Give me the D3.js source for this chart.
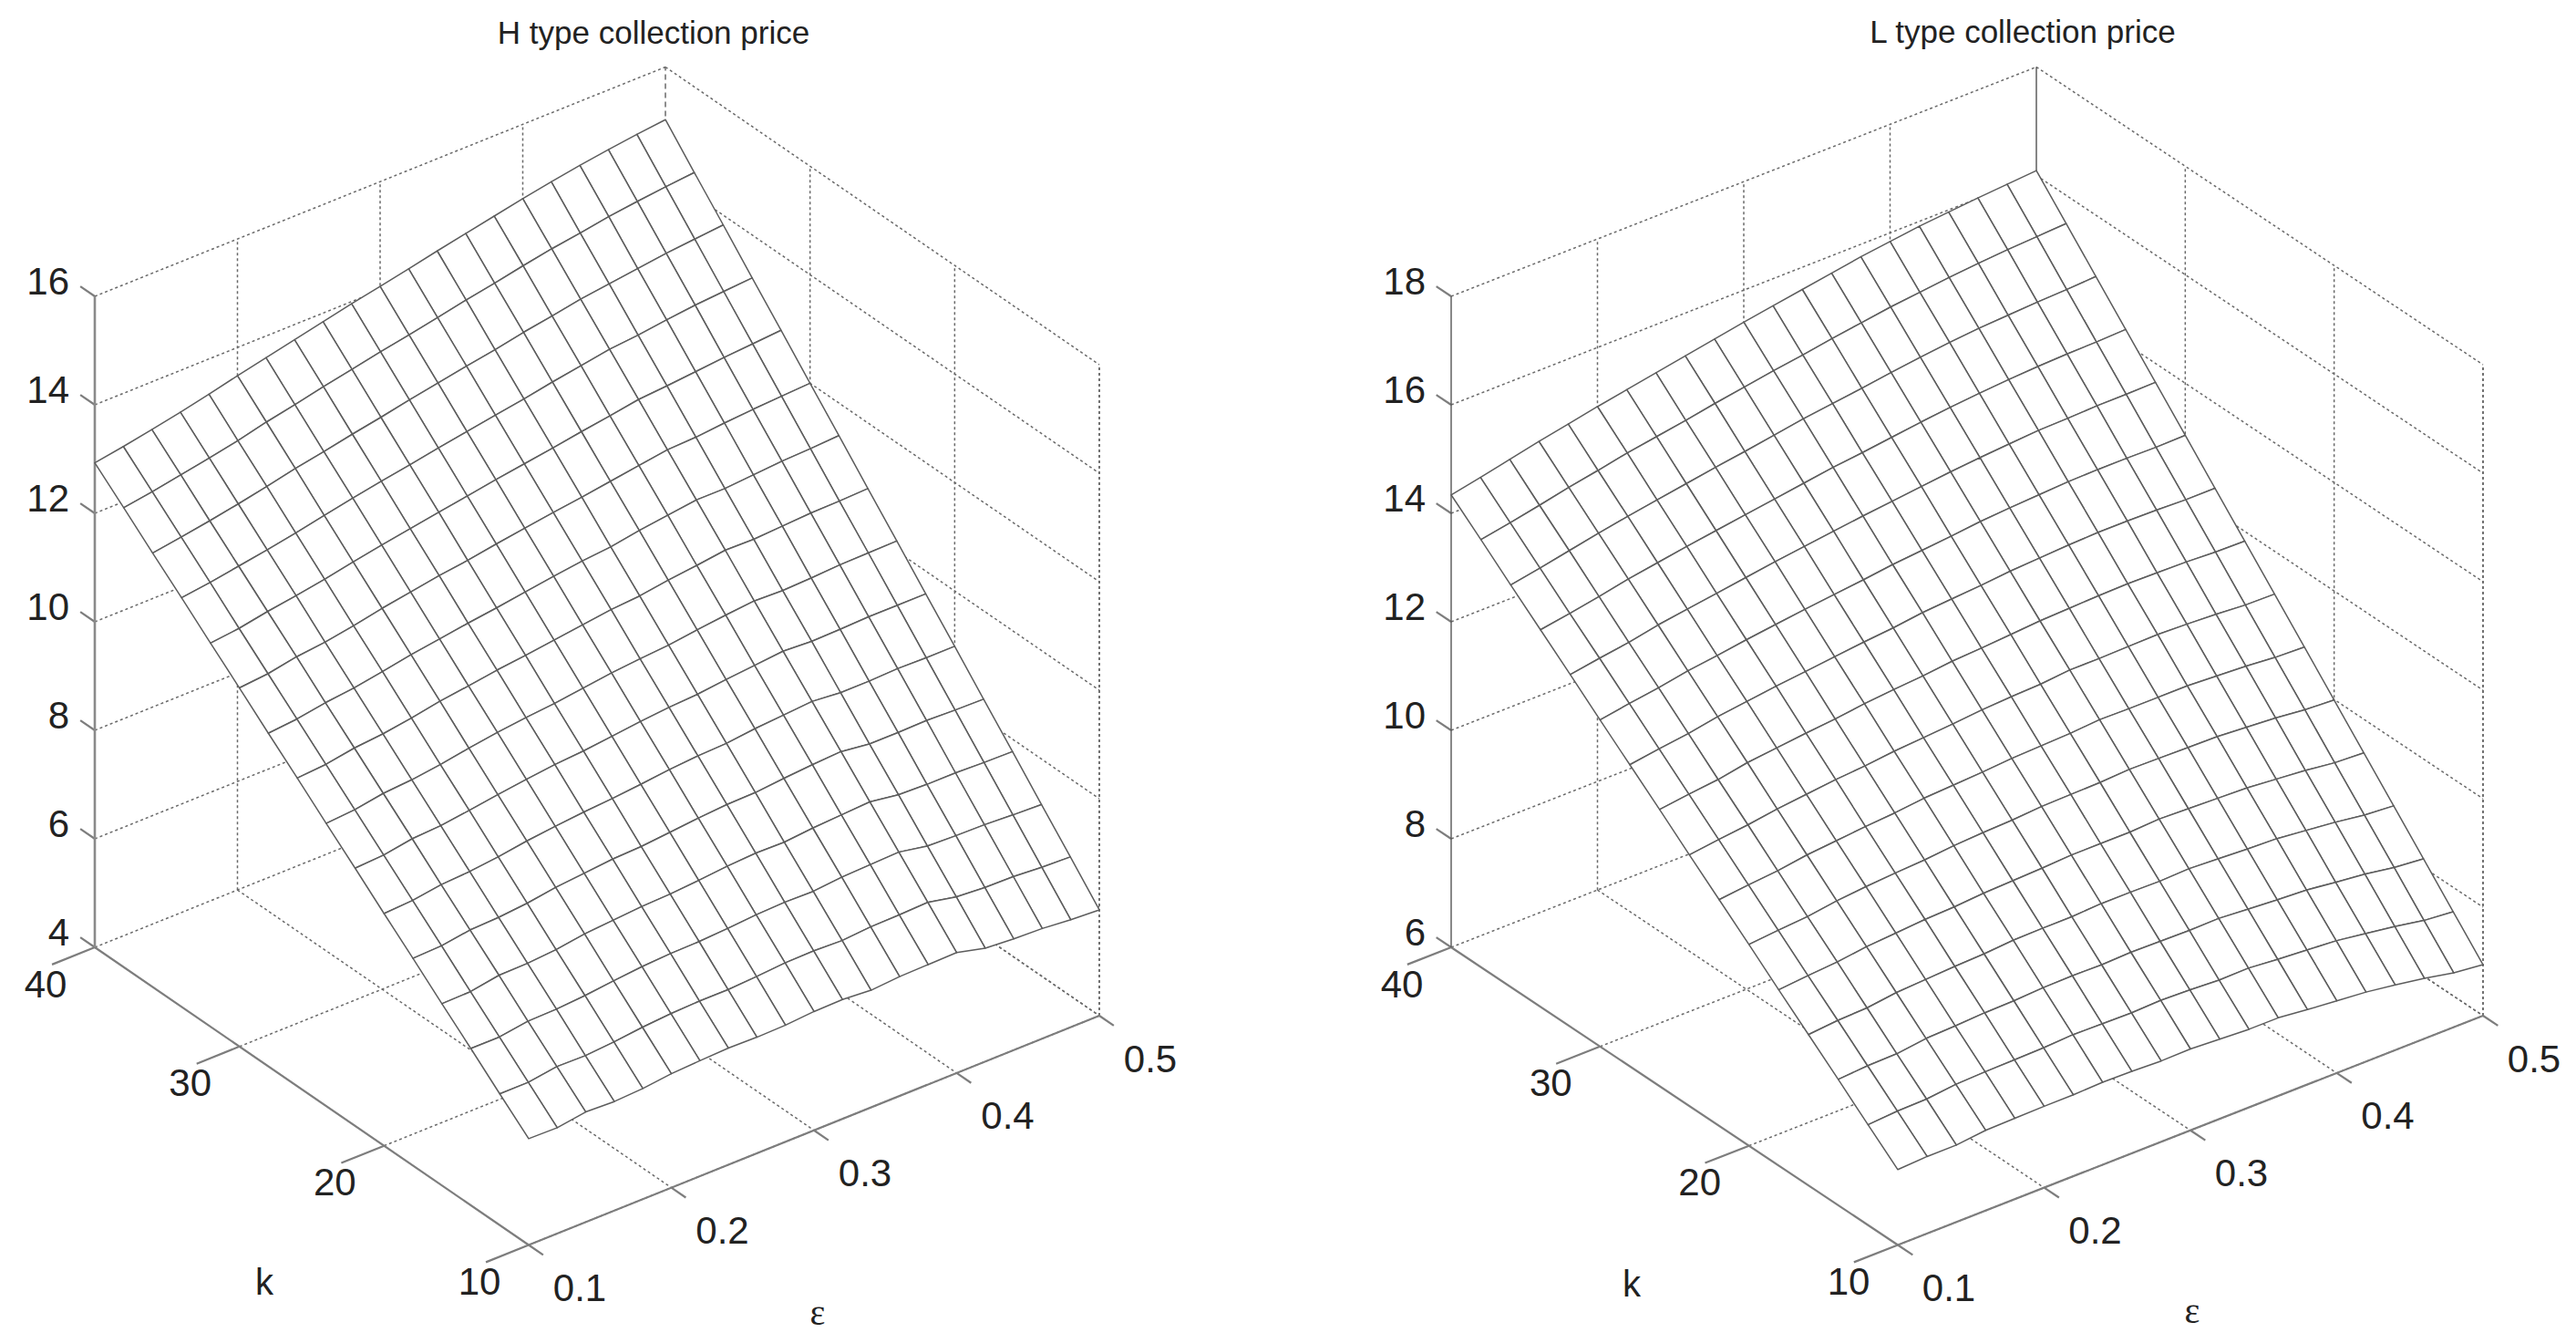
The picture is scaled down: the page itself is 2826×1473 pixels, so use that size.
<!doctype html>
<html>
<head>
<meta charset="utf-8">
<title>Collection price surfaces</title>
<script src="https://cdn.jsdelivr.net/npm/d3@7"></script>
<style>
  html, body { margin: 0; padding: 0; background: #fff; }
  svg { display: block; }
</style>
</head>
<body>
<script>
// Grid of the two surfaces
const kValues = [40, 38, 36, 34, 32, 30, 28, 26, 24, 22, 20, 18, 16, 14, 12, 10];
const epsValues = [0.1, 0.12, 0.14, 0.16, 0.18, 0.2, 0.22, 0.24, 0.26, 0.28, 0.3, 0.32, 0.34, 0.36, 0.38, 0.4, 0.42, 0.44, 0.46, 0.48, 0.5];

// Tick labels
const kTicks = [10, 20, 30, 40];
const epsTicks = [0.1, 0.2, 0.3, 0.4, 0.5];
const hPriceTicks = [4, 6, 8, 10, 12, 14, 16];
const lPriceTicks = [6, 8, 10, 12, 14, 16, 18];

// One row per k (40 down to 10), one column per epsilon (0.1 up to 0.5)
const hPrice = [
  [12.93, 13.02, 13.12, 13.23, 13.35, 13.48, 13.60, 13.72, 13.84, 13.96, 14.07, 14.18, 14.30, 14.41, 14.52, 14.63, 14.73, 14.82, 14.90, 14.97, 15.03],
  [12.47, 12.55, 12.65, 12.75, 12.86, 12.99, 13.10, 13.22, 13.33, 13.44, 13.54, 13.65, 13.76, 13.86, 13.97, 14.07, 14.15, 14.24, 14.31, 14.37, 14.42],
  [12.00, 12.08, 12.17, 12.27, 12.38, 12.50, 12.60, 12.71, 12.81, 12.92, 13.02, 13.12, 13.21, 13.32, 13.41, 13.51, 13.58, 13.65, 13.72, 13.77, 13.82],
  [11.54, 11.61, 11.70, 11.79, 11.89, 12.00, 12.11, 12.21, 12.30, 12.40, 12.49, 12.58, 12.67, 12.77, 12.86, 12.95, 13.00, 13.07, 13.13, 13.17, 13.21],
  [11.07, 11.13, 11.23, 11.31, 11.40, 11.51, 11.61, 11.70, 11.79, 11.88, 11.97, 12.05, 12.13, 12.22, 12.30, 12.39, 12.43, 12.48, 12.53, 12.57, 12.61],
  [10.61, 10.66, 10.76, 10.82, 10.91, 11.02, 11.11, 11.20, 11.27, 11.36, 11.44, 11.52, 11.59, 11.67, 11.75, 11.83, 11.85, 11.90, 11.94, 11.97, 12.00],
  [10.14, 10.19, 10.28, 10.34, 10.43, 10.53, 10.61, 10.69, 10.76, 10.84, 10.92, 10.99, 11.04, 11.13, 11.20, 11.27, 11.27, 11.31, 11.35, 11.37, 11.40],
  [9.68, 9.72, 9.81, 9.86, 9.94, 10.04, 10.11, 10.19, 10.25, 10.32, 10.39, 10.46, 10.50, 10.58, 10.64, 10.71, 10.70, 10.73, 10.76, 10.77, 10.79],
  [9.21, 9.25, 9.34, 9.38, 9.45, 9.54, 9.62, 9.68, 9.73, 9.80, 9.87, 9.92, 9.96, 10.03, 10.09, 10.14, 10.12, 10.14, 10.17, 10.18, 10.19],
  [8.75, 8.78, 8.87, 8.90, 8.97, 9.05, 9.12, 9.18, 9.22, 9.28, 9.34, 9.39, 9.42, 9.48, 9.53, 9.58, 9.55, 9.56, 9.58, 9.58, 9.58],
  [8.28, 8.31, 8.39, 8.42, 8.48, 8.56, 8.62, 8.67, 8.71, 8.76, 8.82, 8.86, 8.88, 8.94, 8.98, 9.02, 8.97, 8.97, 8.99, 8.98, 8.98],
  [7.82, 7.84, 7.92, 7.94, 7.99, 8.07, 8.12, 8.17, 8.19, 8.24, 8.29, 8.33, 8.34, 8.39, 8.43, 8.46, 8.39, 8.39, 8.40, 8.38, 8.37],
  [7.35, 7.36, 7.45, 7.46, 7.50, 7.58, 7.62, 7.66, 7.68, 7.72, 7.77, 7.80, 7.79, 7.84, 7.87, 7.90, 7.82, 7.80, 7.80, 7.78, 7.77],
  [6.89, 6.89, 6.97, 6.98, 7.02, 7.08, 7.13, 7.16, 7.17, 7.20, 7.24, 7.26, 7.25, 7.30, 7.32, 7.34, 7.24, 7.22, 7.21, 7.18, 7.16],
  [6.42, 6.42, 6.50, 6.49, 6.53, 6.59, 6.63, 6.65, 6.65, 6.68, 6.72, 6.73, 6.71, 6.75, 6.76, 6.78, 6.67, 6.63, 6.62, 6.58, 6.56],
  [5.96, 5.95, 6.03, 6.01, 6.04, 6.10, 6.13, 6.15, 6.14, 6.15, 6.19, 6.20, 6.16, 6.20, 6.21, 6.22, 6.09, 6.05, 6.03, 5.98, 5.95],
];

const lPrice = [
  [14.34, 14.45, 14.57, 14.69, 14.80, 14.91, 15.01, 15.11, 15.21, 15.31, 15.41, 15.50, 15.59, 15.68, 15.77, 15.84, 15.91, 15.96, 16.01, 16.05, 16.09],
  [13.88, 13.98, 14.09, 14.21, 14.31, 14.42, 14.51, 14.60, 14.70, 14.79, 14.88, 14.96, 15.05, 15.13, 15.21, 15.27, 15.33, 15.38, 15.42, 15.45, 15.48],
  [13.41, 13.51, 13.62, 13.73, 13.83, 13.92, 14.01, 14.10, 14.18, 14.27, 14.36, 14.43, 14.50, 14.58, 14.65, 14.71, 14.76, 14.79, 14.82, 14.84, 14.87],
  [12.95, 13.04, 13.14, 13.25, 13.34, 13.43, 13.51, 13.59, 13.67, 13.75, 13.83, 13.89, 13.96, 14.03, 14.09, 14.14, 14.18, 14.21, 14.23, 14.24, 14.26],
  [12.49, 12.58, 12.66, 12.77, 12.85, 12.93, 13.01, 13.09, 13.16, 13.23, 13.30, 13.36, 13.42, 13.48, 13.53, 13.57, 13.61, 13.62, 13.64, 13.64, 13.65],
  [12.02, 12.11, 12.19, 12.29, 12.36, 12.44, 12.51, 12.58, 12.64, 12.70, 12.77, 12.82, 12.87, 12.93, 12.97, 13.00, 13.03, 13.04, 13.04, 13.03, 13.04],
  [11.56, 11.64, 11.71, 11.81, 11.88, 11.95, 12.01, 12.07, 12.13, 12.18, 12.25, 12.29, 12.33, 12.38, 12.41, 12.44, 12.46, 12.46, 12.45, 12.43, 12.43],
  [11.10, 11.17, 11.23, 11.33, 11.39, 11.45, 11.50, 11.57, 11.62, 11.66, 11.72, 11.75, 11.79, 11.83, 11.85, 11.87, 11.88, 11.87, 11.86, 11.83, 11.82],
  [10.63, 10.70, 10.76, 10.84, 10.90, 10.96, 11.00, 11.06, 11.10, 11.14, 11.19, 11.22, 11.24, 11.29, 11.29, 11.30, 11.31, 11.29, 11.26, 11.22, 11.21],
  [10.17, 10.23, 10.28, 10.36, 10.41, 10.46, 10.50, 10.56, 10.59, 10.62, 10.66, 10.68, 10.70, 10.74, 10.73, 10.73, 10.73, 10.70, 10.67, 10.62, 10.60],
  [9.71, 9.76, 9.80, 9.88, 9.93, 9.97, 10.00, 10.05, 10.08, 10.10, 10.14, 10.15, 10.16, 10.19, 10.18, 10.17, 10.16, 10.12, 10.08, 10.02, 9.99],
  [9.24, 9.29, 9.33, 9.40, 9.44, 9.48, 9.50, 9.54, 9.56, 9.58, 9.61, 9.61, 9.61, 9.64, 9.62, 9.60, 9.58, 9.53, 9.48, 9.41, 9.38],
  [8.78, 8.83, 8.85, 8.92, 8.95, 8.98, 9.00, 9.04, 9.05, 9.05, 9.08, 9.08, 9.07, 9.09, 9.06, 9.03, 9.01, 8.95, 8.89, 8.81, 8.77],
  [8.32, 8.36, 8.37, 8.44, 8.46, 8.49, 8.50, 8.53, 8.54, 8.53, 8.55, 8.54, 8.53, 8.54, 8.50, 8.46, 8.43, 8.36, 8.30, 8.21, 8.16],
  [7.85, 7.89, 7.90, 7.96, 7.98, 7.99, 8.00, 8.03, 8.02, 8.01, 8.03, 8.01, 7.98, 7.99, 7.94, 7.90, 7.86, 7.78, 7.70, 7.60, 7.55],
  [7.39, 7.42, 7.42, 7.48, 7.49, 7.50, 7.50, 7.52, 7.51, 7.49, 7.50, 7.47, 7.44, 7.44, 7.38, 7.33, 7.28, 7.20, 7.11, 7.00, 6.94],
];

const WIDTH = 2826;
const HEIGHT = 1473;
const FONT = '"Liberation Sans", Arial, sans-serif';
const DOT_COLOR = "#6a6a6a";
const MESH_COLOR = "#5c5c5c";
const AXIS_COLOR = "#7d7d7d";

const svg = d3
  .select("body")
  .append("svg")
  .attr("width", WIDTH)
  .attr("height", HEIGHT)
  .attr("viewBox", `0 0 ${WIDTH} ${HEIGHT}`)
  .style("font-family", FONT);

svg.append("rect").attr("width", WIDTH).attr("height", HEIGHT).attr("fill", "#fff");

function drawPanel(opts) {
  const { title, titleX, values, zTicks, corner, epsLabelX, kLabelX, zAxisStyle, backDash } = opts;
  const zMin = zTicks[0];
  const zMax = zTicks[zTicks.length - 1];

  // Oblique projection: every data axis gets its own pair of screen scales
  const xFromK = d3.scaleLinear().domain([10, 40]).range([0, corner.k40x - corner.ax]);
  const yFromK = d3.scaleLinear().domain([10, 40]).range([0, corner.k40y - corner.ay]);
  const xFromE = d3.scaleLinear().domain([0.1, 0.5]).range([0, corner.e5x - corner.ax]);
  const yFromE = d3.scaleLinear().domain([0.1, 0.5]).range([0, corner.e5y - corner.ay]);
  const yFromZ = d3.scaleLinear().domain([zMin, zMax]).range([0, -corner.zSpan]);

  const project = (k, e, z) => [
    corner.ax + xFromK(k) + xFromE(e),
    corner.ay + yFromK(k) + yFromE(e) + yFromZ(z),
  ];
  const line = d3.line();
  const g = svg.append("g");

  const segment = (parent, from, to) =>
    parent
      .append("path")
      .attr("d", line([project(...from), project(...to)]))
      .attr("fill", "none");

  // Dotted box grid behind the surface
  const grid = g
    .append("g")
    .attr("stroke", DOT_COLOR)
    .attr("stroke-width", 1.5)
    .attr("stroke-dasharray", "3 3");

  for (const z of zTicks) {
    segment(grid, [40, 0.1, z], [40, 0.5, z]);
    segment(grid, [40, 0.5, z], [10, 0.5, z]);
  }
  for (const e of epsTicks.slice(1)) {
    segment(grid, [40, e, zMin], [10, e, zMin]);
    if (e !== 0.5) segment(grid, [40, e, zMin], [40, e, zMax]);
  }
  for (const k of kTicks.slice(0, 3)) {
    segment(grid, [k, 0.1, zMin], [k, 0.5, zMin]);
    if (k !== 40) segment(grid, [k, 0.5, zMin], [k, 0.5, zMax]);
  }
  segment(grid, [10, 0.5, zMin], [10, 0.5, zMax]);

  const backLine = segment(g, [40, 0.5, zMin], [40, 0.5, zMax])
    .attr("stroke-width", backDash ? 1.5 : 1.3)
    .attr("stroke", backDash ? DOT_COLOR : "#444");
  if (backDash) backLine.attr("stroke-dasharray", "6 4");

  // Solid axes with their tick marks
  const axes = g.append("g").attr("stroke", AXIS_COLOR).attr("stroke-width", 2.2);
  segment(axes, [40, 0.1, zMin], [10, 0.1, zMin]);
  segment(axes, [10, 0.1, zMin], [10, 0.5, zMin]);
  segment(g, [40, 0.1, zMin], [40, 0.1, zMax])
    .attr("stroke", zAxisStyle.color)
    .attr("stroke-width", zAxisStyle.width);

  for (const z of zTicks) segment(axes, [40, 0.1, z], [41, 0.1, z]);
  for (const k of kTicks) segment(axes, [k, 0.1, zMin], [k, 0.07, zMin]);
  for (const e of epsTicks) segment(axes, [10, e, zMin], [9, e, zMin]);

  // Surface: white cells painted from the back to the front hide the grid
  const cells = [];
  for (let i = 0; i < kValues.length - 1; i++) {
    for (let j = epsValues.length - 2; j >= 0; j--) {
      cells.push([
        project(kValues[i], epsValues[j], values[i][j]),
        project(kValues[i], epsValues[j + 1], values[i][j + 1]),
        project(kValues[i + 1], epsValues[j + 1], values[i + 1][j + 1]),
        project(kValues[i + 1], epsValues[j], values[i + 1][j]),
      ]);
    }
  }
  g.append("g")
    .selectAll("path")
    .data(cells)
    .join("path")
    .attr("d", (d) => line(d) + "Z")
    .attr("fill", "#fff")
    .attr("stroke", MESH_COLOR)
    .attr("stroke-width", 1.5)
    .attr("stroke-linejoin", "round");

  // Text
  const label = (x, y, text, size, extra = {}) =>
    g
      .append("text")
      .attr("x", x)
      .attr("y", y)
      .attr("text-anchor", extra.anchor ?? "middle")
      .attr("dominant-baseline", "central")
      .attr("font-size", size)
      .attr("font-family", extra.family ?? FONT)
      .attr("fill", "#222")
      .text(text);

  label(titleX, opts.titleY, title, 35);

  for (const z of zTicks) {
    const [x, y] = project(40, 0.1, z);
    label(x - 28, y - 17, z, 42, { anchor: "end" });
  }
  for (const k of kTicks) {
    const [x, y] = project(k, 0.1, zMin);
    label(x - 54, y + 40, k, 42);
  }
  for (const e of epsTicks) {
    const [x, y] = project(10, e, zMin);
    label(x + 56, y + 47, e.toFixed(1), 42);
  }
  label(kLabelX, opts.kLabelY, "k", 40);
  label(epsLabelX, opts.epsLabelY, "ε", 40, { family: '"Liberation Serif", serif' });
}

drawPanel({
  title: "H type collection price",
  titleX: 717,
  titleY: 35,
  values: hPrice,
  zTicks: hPriceTicks,
  corner: { ax: 580, ay: 1365.5, k40x: 104, k40y: 1039, e5x: 1206, e5y: 1114, zSpan: 714 },
  kLabelX: 290,
  kLabelY: 1406,
  epsLabelX: 897,
  epsLabelY: 1439,
  zAxisStyle: { color: "#8a8a8a", width: 2.6 },
  backDash: true,
});

drawPanel({
  title: "L type collection price",
  titleX: 2219,
  titleY: 34,
  values: lPrice,
  zTicks: lPriceTicks,
  corner: { ax: 2082, ay: 1365.5, k40x: 1592, k40y: 1039, e5x: 2724, e5y: 1114, zSpan: 714 },
  kLabelX: 1790,
  kLabelY: 1408,
  epsLabelX: 2405,
  epsLabelY: 1437,
  zAxisStyle: { color: "#555", width: 1.4 },
  backDash: false,
});
</script>
</body>
</html>
